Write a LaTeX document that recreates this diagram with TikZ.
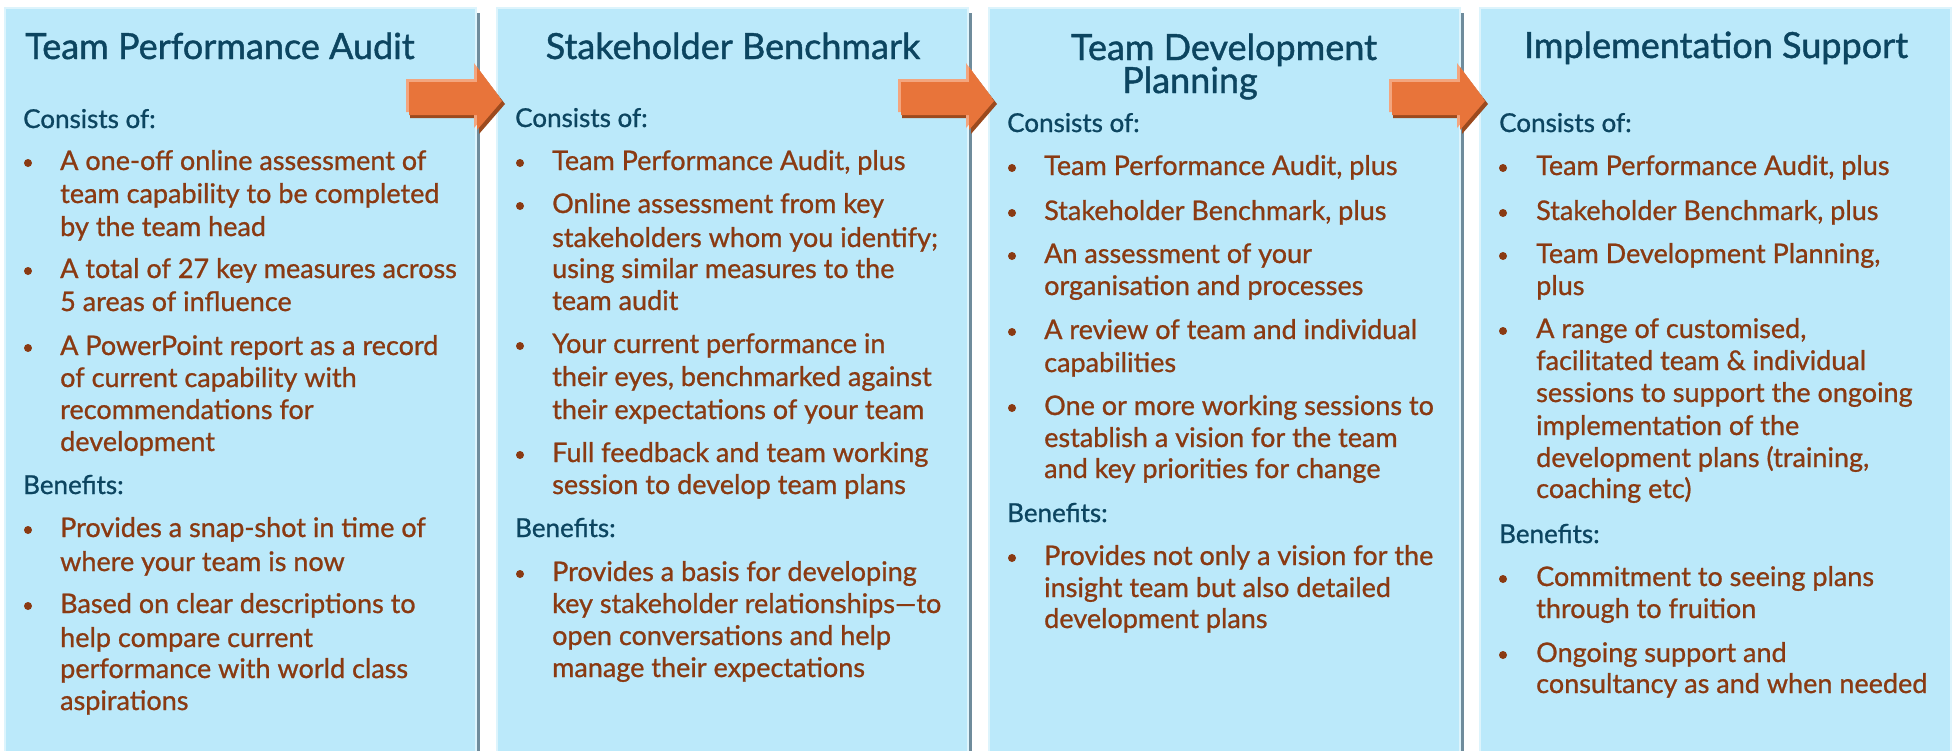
\documentclass[tikz,border=0pt]{standalone}
\usepackage{fontspec}
\setmainfont{Lato}
\newfontfamily\itemfont{Lato}[FakeBold=0.9]
\newfontfamily\headfont{Lato}[FakeBold=1.2]
\definecolor{panelblue}{HTML}{BBE9FA}
\definecolor{paneledge}{HTML}{DDF4FC}
\definecolor{panelshadow}{HTML}{6F8C9C}
\definecolor{titleblue}{HTML}{0C4560}
\definecolor{itembrown}{HTML}{8A3A12}
\definecolor{arroworange}{HTML}{E8743A}
\definecolor{arrowlight}{HTML}{F3A57E}
\definecolor{arrowdark}{HTML}{9C4A1E}
\tikzset{
  panel/.style={fill=panelblue, draw=paneledge, line width=2pt},
  pshadow/.style={fill=panelshadow, draw=none},
  ttl/.style={text=titleblue, font=\headfont\fontsize{36}{40}\selectfont, anchor=base, inner sep=0pt},
  hdr/.style={text=titleblue, font=\itemfont\fontsize{26}{30}\selectfont, anchor=base west, inner sep=0pt},
  item/.style={text=itembrown, font=\itemfont\fontsize{27}{32}\selectfont, anchor=base west, inner sep=0pt},
  dot/.style={circle, fill=itembrown, minimum size=8pt, inner sep=0pt},
  arrowbody/.style={fill=arroworange, draw=none},
  arrowhi/.style={fill=arrowlight, draw=none},
  arrowsh/.style={fill=arrowdark, draw=none},
}
\newcommand\tl[4]{\node[item] (#1) at (#2,#3) {#4};}
\newcommand\bd[3]{\node[dot] (#1) at (#2,#3-7) {};}
\newcommand\bigarrow[2]{% #1 name prefix, #2 panel right edge x
  \path[arrowsh] (#2-66,85) -- (#2+3,85) -- (#2+3,70) -- (#2+29,104) -- (#2+3,134) -- (#2+3,118) -- (#2-66,118) -- cycle;
  \path[arrowhi] (#2-70,79) -- (#2-2,79) -- (#2-2,63) -- (#2+24,98) -- (#2-2,128) -- (#2-2,112) -- (#2-70,112) -- cycle;
  \path[arrowbody] (#2-67,82) -- (#2+1,82) -- (#2+1,67) -- (#2+26,101) -- (#2+1,130) -- (#2+1,115) -- (#2-67,115) -- cycle;
  \coordinate (#1) at (#2,100);
}
\begin{document}
\begin{tikzpicture}[x=1pt,y=-1pt]
\useasboundingbox (0,0) rectangle (1952,750);
\fill[white] (0,0) rectangle (1952,750);
\clip (0,0) rectangle (1952,750);
% panels
\foreach \L/\n in {5/1,497/2,989/3,1480/4}{
  \path[pshadow] (\L+468,13) rectangle (\L+475,760);
  \path[panel] (\L,8) rectangle (\L+471,760);
}
\coordinate (p1) at (5,8);
\coordinate (p2) at (497,8);
\coordinate (p3) at (989,8);
\coordinate (p4) at (1480,8);
%
% ---------- Panel 1 ----------
\node[ttl] (t1) at (220,59) {Team Performance Audit};
\node[hdr] (c1) at (23,128) {Consists of:};
\bd{d11}{28}{170}
\tl{a1}{60}{170}{A one-off online assessment of}
\tl{a2}{60}{203}{team capability to be completed}
\tl{a3}{60}{236}{by the team head}
\bd{d12}{28}{278}
\tl{a4}{60}{278}{A total of 27 key measures across}
\tl{a5}{60}{311}{5 areas of influence}
\bd{d13}{28}{355}
\tl{a6}{60}{355}{A PowerPoint report as a record}
\tl{a7}{60}{387}{of current capability with}
\tl{a8}{60}{419}{recommendations for}
\tl{a9}{60}{451}{development}
\node[hdr] (e1) at (23,494) {Benefits:};
\bd{d14}{28}{537}
\tl{a10}{60}{537}{Provides a snap-shot in time of}
\tl{a11}{60}{571}{where your team is now}
\bd{d15}{28}{613}
\tl{a12}{60}{613}{Based on clear descriptions to}
\tl{a13}{60}{647}{help compare current}
\tl{a14}{60}{678}{performance with world class}
\tl{a15}{60}{710}{aspirations}
%
% ---------- Panel 2 ----------
\node[ttl] (t2) at (733,59) {Stakeholder Benchmark};
\node[hdr] (c2) at (515,127) {Consists of:};
\bd{d21}{520}{170}
\tl{b1}{552}{170}{Team Performance Audit, plus}
\bd{d22}{520}{213}
\tl{b2}{552}{213}{Online assessment from key}
\tl{b3}{552}{247}{stakeholders whom you identify;}
\tl{b4}{552}{278}{using similar measures to the}
\tl{b5}{552}{310}{team audit}
\bd{d23}{520}{353}
\tl{b6}{552}{353}{Your current performance in}
\tl{b7}{552}{386}{their eyes, benchmarked against}
\tl{b8}{552}{419}{their expectations of your team}
\bd{d24}{520}{462}
\tl{b9}{552}{462}{Full feedback and team working}
\tl{b10}{552}{494}{session to develop team plans}
\node[hdr] (e2) at (515,537) {Benefits:};
\bd{d25}{520}{581}
\tl{b11}{552}{581}{Provides a basis for developing}
\tl{b12}{552}{613}{key stakeholder relationships—to}
\tl{b13}{552}{645}{open conversations and help}
\tl{b14}{552}{677}{manage their expectations}
%
% ---------- Panel 3 ----------
\node[ttl] (t3a) at (1224,60) {Team Development};
\node[ttl] (t3b) at (1190,93) {Planning};
\node[hdr] (c3) at (1007,132) {Consists of:};
\bd{d31}{1012}{175}
\tl{c1l}{1044}{175}{Team Performance Audit, plus}
\bd{d32}{1012}{220}
\tl{c2l}{1044}{220}{Stakeholder Benchmark, plus}
\bd{d33}{1012}{263}
\tl{c3l}{1044}{263}{An assessment of your}
\tl{c4l}{1044}{295}{organisation and processes}
\bd{d34}{1012}{339}
\tl{c5l}{1044}{339}{A review of team and individual}
\tl{c6l}{1044}{372}{capabilities}
\bd{d35}{1012}{415}
\tl{c7l}{1044}{415}{One or more working sessions to}
\tl{c8l}{1044}{447}{establish a vision for the team}
\tl{c9l}{1044}{478}{and key priorities for change}
\node[hdr] (e3) at (1007,522) {Benefits:};
\bd{d36}{1012}{565}
\tl{c10l}{1044}{565}{Provides not only a vision for the}
\tl{c11l}{1044}{597}{insight team but also detailed}
\tl{c12l}{1044}{628}{development plans}
%
% ---------- Panel 4 ----------
\node[ttl] (t4) at (1716,58) {Implementation Support};
\node[hdr] (c4) at (1499,132) {Consists of:};
\bd{d41}{1503}{175}
\tl{f1}{1536}{175}{Team Performance Audit, plus}
\bd{d42}{1503}{220}
\tl{f2}{1536}{220}{Stakeholder Benchmark, plus}
\bd{d43}{1503}{263}
\tl{f3}{1536}{263}{Team Development Planning,}
\tl{f4}{1536}{295}{plus}
\bd{d44}{1503}{338}
\tl{f5}{1536}{338}{A range of customised,}
\tl{f6}{1536}{370}{facilitated team \& individual}
\tl{f7}{1536}{402}{sessions to support the ongoing}
\tl{f8}{1536}{435}{implementation of the}
\tl{f9}{1536}{467}{development plans (training,}
\tl{f10}{1536}{498}{coaching etc)}
\node[hdr] (e4) at (1499,543) {Benefits:};
\bd{d45}{1503}{586}
\tl{f11}{1536}{586}{Commitment to seeing plans}
\tl{f12}{1536}{618}{through to fruition}
\bd{d46}{1503}{662}
\tl{f13}{1536}{662}{Ongoing support and}
\tl{f14}{1536}{693}{consultancy as and when needed}
%
% ---------- arrows ----------
\bigarrow{ar1}{476}
\bigarrow{ar2}{968}
\bigarrow{ar3}{1459}
\end{tikzpicture}
\end{document}
